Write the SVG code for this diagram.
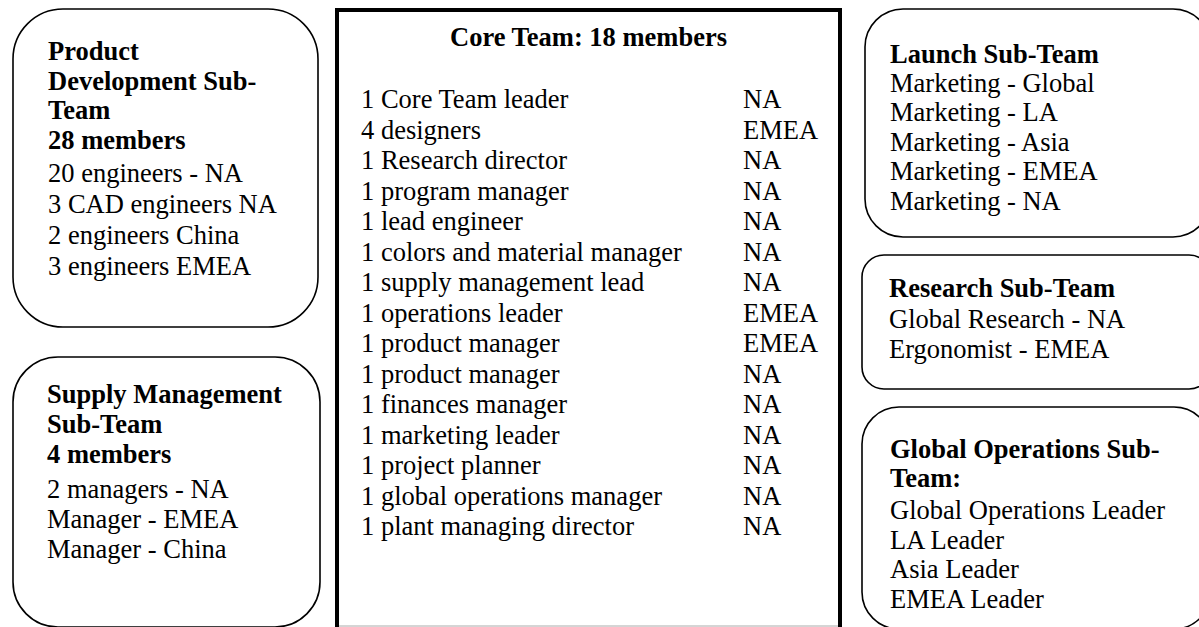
<svg xmlns="http://www.w3.org/2000/svg" width="1199" height="627" viewBox="0 0 1199 627">
<style>
.box{fill:#fff;stroke:#000;stroke-width:1.6}
.core{fill:#fff;stroke:#000;stroke-width:4}
text{font-family:"Liberation Serif","Times New Roman",serif;font-size:26.5px;fill:#000}
.b{font-weight:bold}
</style>
<rect width="1199" height="627" fill="#fff"/>
<g id="product-dev">
<rect class="box" x="13" y="9" width="305" height="318" rx="50" ry="50"/>
<text x="48" y="60" class="b">Product</text>
<text x="48" y="89.5" class="b">Development Sub-</text>
<text x="48" y="119" class="b">Team</text>
<text x="48" y="149" class="b">28 members</text>
<text x="48" y="182">20 engineers - NA</text>
<text x="48" y="213">3 CAD engineers NA</text>
<text x="48" y="244">2 engineers China</text>
<text x="48" y="275">3 engineers EMEA</text>
</g>
<g id="supply-mgmt">
<rect class="box" x="13" y="357" width="307" height="270" rx="45" ry="45"/>
<text x="47" y="403" class="b">Supply Management</text>
<text x="47" y="433" class="b">Sub-Team</text>
<text x="47" y="463" class="b">4 members</text>
<text x="47" y="498">2 managers - NA</text>
<text x="47" y="528">Manager - EMEA</text>
<text x="47" y="558">Manager - China</text>
</g>
<g id="core-team">
<path class="core" d="M337 640 V10 H840 V640"/>
<line x1="339" y1="626" x2="838" y2="626" stroke="#aaa" stroke-width="1"/>
<text x="588.5" y="46" class="b" text-anchor="middle">Core Team: 18 members</text>
<g>
<text x="361" y="108">1 Core Team leader</text>
<text x="361" y="138.5">4 designers</text>
<text x="361" y="169">1 Research director</text>
<text x="361" y="199.5">1 program manager</text>
<text x="361" y="230">1 lead engineer</text>
<text x="361" y="260.5">1 colors and material manager</text>
<text x="361" y="291">1 supply management lead</text>
<text x="361" y="321.5">1 operations leader</text>
<text x="361" y="352">1 product manager</text>
<text x="361" y="382.5">1 product manager</text>
<text x="361" y="413">1 finances manager</text>
<text x="361" y="443.5">1 marketing leader</text>
<text x="361" y="474">1 project planner</text>
<text x="361" y="504.5">1 global operations manager</text>
<text x="361" y="535">1 plant managing director</text>
</g>
<g>
<text x="743" y="108">NA</text>
<text x="743" y="138.5">EMEA</text>
<text x="743" y="169">NA</text>
<text x="743" y="199.5">NA</text>
<text x="743" y="230">NA</text>
<text x="743" y="260.5">NA</text>
<text x="743" y="291">NA</text>
<text x="743" y="321.5">EMEA</text>
<text x="743" y="352">EMEA</text>
<text x="743" y="382.5">NA</text>
<text x="743" y="413">NA</text>
<text x="743" y="443.5">NA</text>
<text x="743" y="474">NA</text>
<text x="743" y="504.5">NA</text>
<text x="743" y="535">NA</text>
</g>
</g>
<g id="launch">
<rect class="box" x="865" y="9" width="346" height="228" rx="38" ry="38"/>
<text x="890" y="63" class="b">Launch Sub-Team</text>
<text x="890" y="92">Marketing - Global</text>
<text x="890" y="121">Marketing - LA</text>
<text x="890" y="150.5">Marketing - Asia</text>
<text x="890" y="180">Marketing - EMEA</text>
<text x="890" y="209.5">Marketing - NA</text>
</g>
<g id="research">
<rect class="box" x="862" y="255" width="349" height="134" rx="22" ry="22"/>
<text x="889" y="297" class="b">Research Sub-Team</text>
<text x="889" y="328">Global Research - NA</text>
<text x="889" y="358">Ergonomist - EMEA</text>
</g>
<g id="global-ops">
<rect class="box" x="862" y="407" width="349" height="222" rx="37" ry="37"/>
<text x="890" y="458" class="b">Global Operations Sub-</text>
<text x="890" y="487" class="b">Team:</text>
<text x="890" y="519">Global Operations Leader</text>
<text x="890" y="548.5">LA Leader</text>
<text x="890" y="578">Asia Leader</text>
<text x="890" y="607.5">EMEA Leader</text>
</g>
<g id="connectors"></g>
</svg>
